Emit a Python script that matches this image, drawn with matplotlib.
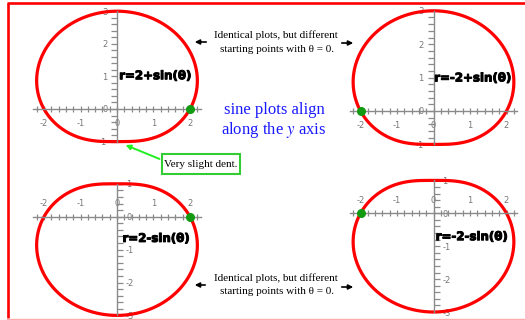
import numpy as np
import matplotlib
matplotlib.use("Agg")
import matplotlib.pyplot as plt
from matplotlib import patheffects
from matplotlib.patches import Rectangle

plt.rcParams['axes.unicode_minus'] = False
plt.rcParams['mathtext.fontset'] = 'stix'

# r = offset + sign * sin(theta), one entry per panel
offsets = [2, -2, 2, -2]
sine_signs = [1, 1, -1, -1]
labels = ['r=2+sin(θ)', 'r=-2+sin(θ)', 'r=2-sin(θ)', 'r=-2-sin(θ)']
# pixel origin of each panel, y scale (px per unit), upper or lower row
origins = [(117, 109), (433.5, 111), (117, 216.7), (433.5, 213.3)]
yscales = [32.6, 33.4, 32.9, 32.9]
rows = ['top', 'top', 'bottom', 'bottom']
label_pos = [(0.06, 1.02), (0.02, 0.99), (0.15, -0.66), (0.06, -0.71)]

W, H = 525, 320
SX = 36.5
theta = np.linspace(0, 2 * np.pi, 500)

fig = plt.figure(figsize=(5.25, 3.2), dpi=100)
bg = fig.add_axes([0, 0, 1, 1])
bg.set_xlim(0, W)
bg.set_ylim(H, 0)
bg.axis('off')

# red frame
bg.plot([7, 525], [3.3, 3.3], color='red', lw=1.9, solid_capstyle='butt')
bg.plot([7.5, 7.5], [3, 318], color='red', lw=1.9, solid_capstyle='butt')
bg.plot([7, 525], [318.5, 318.5], color='#ffaaaa', lw=1.0)


def panel(i):
    ox, oy = origins[i]
    sy = yscales[i]
    x0, x1 = -2.6, 2.6
    if rows[i] == 'top':
        y0, y1 = -1.25, 3.25
    else:
        y0, y1 = -3.25, 1.25
    left = (ox + x0 * SX) / W
    bottom = 1 - (oy - y0 * sy) / H
    ax = fig.add_axes([left, bottom, (x1 - x0) * SX / W, (y1 - y0) * sy / H])
    ax.set_xlim(x0, x1)
    ax.set_ylim(y0, y1)
    ax.patch.set_alpha(0)

    if rows[i] == 'top':
        xs, ys = 'bottom', 'left'
        hide = ['top', 'right']
        yb = (-1, 3)
    else:
        xs, ys = 'top', 'right'
        hide = ['bottom', 'left']
        yb = (-3, 1)
    for s in hide:
        ax.spines[s].set_visible(False)
    ax.spines[xs].set_position(('data', 0))
    ax.spines[ys].set_position(('data', 0))
    ax.spines[xs].set_bounds(-2.3, 2.3)
    ax.spines[ys].set_bounds(*yb)
    for s in (xs, ys):
        ax.spines[s].set_color('#8a8a8a')
        ax.spines[s].set_linewidth(1.0)
    ax.xaxis.set_ticks_position(xs)
    ax.yaxis.set_ticks_position(ys)

    ax.set_xticks(np.arange(-2, 3))
    ax.set_xticks(np.round(np.arange(-2.2, 2.21, 0.2), 1), minor=True)
    ax.set_yticks(np.arange(yb[0], yb[1] + 1))
    ax.set_yticks(np.round(np.arange(yb[0], yb[1] + 0.01, 0.2), 1), minor=True)
    ax.tick_params(axis='x', which='both', direction='inout', length=5,
                   color='#8a8a8a', width=0.9)
    ax.tick_params(axis='y', which='both', direction='out', length=4.5,
                   color='#8a8a8a', width=0.9)
    ax.tick_params(which='major', labelsize=6, labelcolor='#777777')
    if rows[i] == 'top':
        ax.tick_params(axis='x', pad=5)
        ax.tick_params(axis='y', pad=2.5)
    else:
        ax.tick_params(axis='x', pad=3.5)
        ax.tick_params(axis='y', pad=2)

    r = offsets[i] + sine_signs[i] * np.sin(theta)
    ax.plot(r * np.cos(theta), r * np.sin(theta), color='red', lw=2.3,
            clip_on=False)
    ax.plot([offsets[i]], [0], 'o', color='#129a12', ms=5.5, clip_on=False,
            zorder=5)
    tx, ty = label_pos[i]
    ax.text(tx, ty, labels[i], fontsize=8.5, fontweight='bold', color='black',
            ha='left', va='center', family='DejaVu Sans',
            path_effects=[patheffects.withStroke(linewidth=0.7,
                                                 foreground='black')])


for i in range(4):
    panel(i)

serif = 'Liberation Serif'
# notes between the panels
bg.text(276, 35, 'Identical plots, but different', fontsize=8, family=serif,
        ha='center', va='center')
bg.text(277, 50, 'starting points with θ = 0.', fontsize=8, family=serif,
        ha='center', va='center')
bg.text(276, 278, 'Identical plots, but different', fontsize=8, family=serif,
        ha='center', va='center')
bg.text(277, 292, 'starting points with θ = 0.', fontsize=8, family=serif,
        ha='center', va='center')

arrow = dict(arrowstyle='-|>', color='black', lw=1.2, mutation_scale=7)
bg.annotate('', xy=(192, 42), xytext=(209, 42), arrowprops=arrow)
bg.annotate('', xy=(356, 43), xytext=(339, 43), arrowprops=arrow)
bg.annotate('', xy=(192, 285), xytext=(208, 285), arrowprops=arrow)
bg.annotate('', xy=(356, 287), xytext=(339, 287), arrowprops=arrow)

bg.text(274, 110, 'sine plots align', fontsize=12, family=serif,
        color='#1a1aff', ha='center', va='center')
bg.text(274, 130, 'along the $y$ axis', fontsize=12, family=serif,
        color='#1a1aff', ha='center', va='center')

# dent note
bg.add_patch(Rectangle((162, 154), 78, 20, fill=False, edgecolor='#33cc33',
                       lw=1.5))
bg.text(201, 164.5, 'Very slight dent.', fontsize=8, family=serif,
        ha='center', va='center')
bg.annotate('', xy=(123, 144), xytext=(162, 160),
            arrowprops=dict(arrowstyle='-|>', color='#22ee22', lw=1.4,
                            mutation_scale=7))

fig.savefig('out.png', dpi=100)
